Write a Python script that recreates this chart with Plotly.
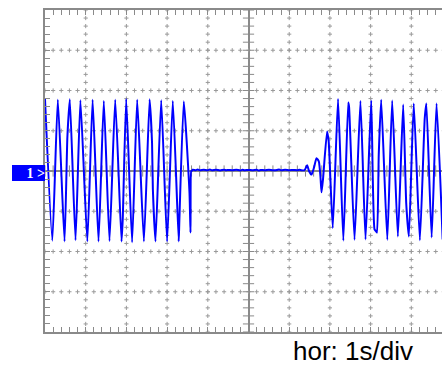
import numpy as np
import plotly.graph_objects as go

# ---- waveform data (time in s, amplitude in divisions) ----
# first burst of oscillation
t_burst1 = [-5.00, -4.82, -4.685, -4.52, -4.45, -4.39, -4.25, -4.13, -3.96, -3.83,
            -3.685, -3.555, -3.415, -3.275, -3.12, -3.09, -3.005, -2.86, -2.735,
            -2.57, -2.43, -2.37, -2.35, -2.285, -2.145, -2.00, -1.86, -1.715, -1.70,
            -1.59, -1.45, -1.425, -1.41]
v_burst1 = [1.79, -1.73, 1.77, -1.75, 0.85, 1.78, -1.72, 1.76, -1.75, 1.77,
            -1.75, 1.74, -1.74, 1.77, -1.75, -1.20, 1.79, -1.77, 1.77,
            -1.75, 1.78, 0.70, -0.45, -1.75, 1.76, -1.75, 1.74, -1.75, -1.27,
            1.73, -0.54, -1.53, 0.00]

# quiet interval
t_quiet = [-1.40, -1.37, -1.30, -1.25, -1.20, -1.10, -1.00, -0.95, -0.90, -0.80,
           -0.70, -0.60, -0.55, -0.50, -0.40, -0.30, -0.20, -0.15, -0.10, 0.00,
           0.10, 0.20, 0.25, 0.30, 0.40, 0.50, 0.60, 0.70, 0.75, 0.80, 0.90,
           1.00, 1.10, 1.20, 1.25, 1.30, 1.376]
v_quiet = [0.00, 0.03, 0.02, 0.035, 0.02, 0.03, 0.02, 0.035, 0.02, 0.03,
           0.015, 0.03, 0.02, 0.025, 0.02, 0.03, 0.015, 0.03, 0.02, 0.025,
           0.02, 0.03, 0.015, 0.025, 0.02, 0.03, 0.02, 0.025, 0.035, 0.02, 0.03,
           0.02, 0.025, 0.02, 0.03, 0.02, 0.02]

# restart and second burst
t_burst2 = [1.44, 1.486, 1.548, 1.61, 1.67, 1.727, 1.769, 1.794, 1.83, 1.93,
            1.97, 2.07, 2.20, 2.33, 2.45, 2.47, 2.605, 2.75, 2.875, 3.015,
            3.096, 3.135, 3.157, 3.20, 3.26, 3.41, 3.53, 3.67, 3.80, 3.875,
            3.94, 4.06, 4.21, 4.33, 4.37, 4.50, 4.62, 4.77]
v_burst2 = [0.14, 0.00, -0.09, 0.09, 0.32, 0.24, -0.16, -0.53, -0.21, 0.98,
            0.73, -1.42, 1.79, -1.73, 1.70, 1.60, -1.71, 1.74, -1.70, 1.75,
            -1.45, -1.50, -1.53, 0.40, 1.77, -1.71, 1.75, -1.63, 1.65, -0.80,
            -1.63, 1.68, -1.72, 1.31, 1.68, -1.65, 1.68, -1.70]

channel_label = "<b>1 &gt;</b>"
timebase_label = "hor: 1s/div"

t = t_burst1 + t_quiet + t_burst2
v = v_burst1 + v_quiet + v_burst2

GRID = "#8a8a8a"
DOT = "#9a9a9a"
X_RANGE = [-5, 4.754]
Y_RANGE = [-4, 4]

fig = go.Figure()

# dotted graticule made of small crosses every 1/5 division
gx, gy = [], []
ysub = np.round(np.arange(-20, 21) * 0.2, 3)
xsub = np.round(np.arange(-25, 25) * 0.2, 3)
for xv in range(-4, 5):
    if xv == 0:
        continue
    gx += [xv] * len(ysub)
    gy += list(ysub)
for yv in range(-3, 4):
    if yv == 0:
        continue
    gx += list(xsub)
    gy += [yv] * len(xsub)
fig.add_trace(go.Scatter(x=gx, y=gy, mode="markers", hoverinfo="skip",
                         marker=dict(symbol="cross-thin", size=3, color=DOT,
                                     line=dict(width=1, color=DOT))))

# ticks on the centre axes
fig.add_trace(go.Scatter(x=list(xsub), y=[0] * len(xsub), mode="markers", hoverinfo="skip",
                         marker=dict(symbol="line-ns", size=8, color=GRID,
                                     line=dict(width=1, color=GRID))))
fig.add_trace(go.Scatter(x=[0] * len(ysub), y=list(ysub), mode="markers", hoverinfo="skip",
                         marker=dict(symbol="line-ew", size=8, color=GRID,
                                     line=dict(width=1, color=GRID))))

# signal
fig.add_trace(go.Scatter(x=t, y=v, mode="lines",
                         line=dict(color="#0000ff", width=2, shape="spline",
                                   smoothing=0.5)))

fig.update_xaxes(range=X_RANGE, showgrid=False, zeroline=True, zerolinecolor=GRID,
                 zerolinewidth=1.5, showline=True, linecolor=GRID, linewidth=1.5,
                 mirror="ticks", ticks="inside", ticklen=5, tickwidth=1,
                 tickcolor=GRID, tick0=0, dtick=0.2, showticklabels=False,
                 fixedrange=True)
fig.update_yaxes(range=Y_RANGE, showgrid=False, zeroline=True, zerolinecolor=GRID,
                 zerolinewidth=1.5, showline=True, linecolor=GRID, linewidth=1.5,
                 mirror=False, ticks="inside", ticklen=5, tickwidth=1,
                 tickcolor=GRID, tick0=0, dtick=0.2, showticklabels=False,
                 fixedrange=True)

fig.add_annotation(text=channel_label, xref="paper", yref="y", x=0, y=0,
                   xanchor="right", yanchor="middle", yshift=-1.5, showarrow=False,
                   width=33, height=16, align="right", bgcolor="#0000ff",
                   borderpad=0, borderwidth=0,
                   font=dict(family="Liberation Serif", size=14, color="white"))
fig.add_annotation(text=timebase_label, xref="paper", yref="paper",
                   x=0.776, y=-0.07, yshift=4, xanchor="center", yanchor="middle",
                   showarrow=False,
                   font=dict(family="Liberation Sans, Arial", size=26, color="black"))

fig.update_layout(width=442, height=365, margin=dict(l=45, r=0, t=10, b=33),
                  plot_bgcolor="white", paper_bgcolor="white", showlegend=False)

fig.write_html("out.html", config={"displayModeBar": False},
               post_script="document.body.style.margin='0px';")
